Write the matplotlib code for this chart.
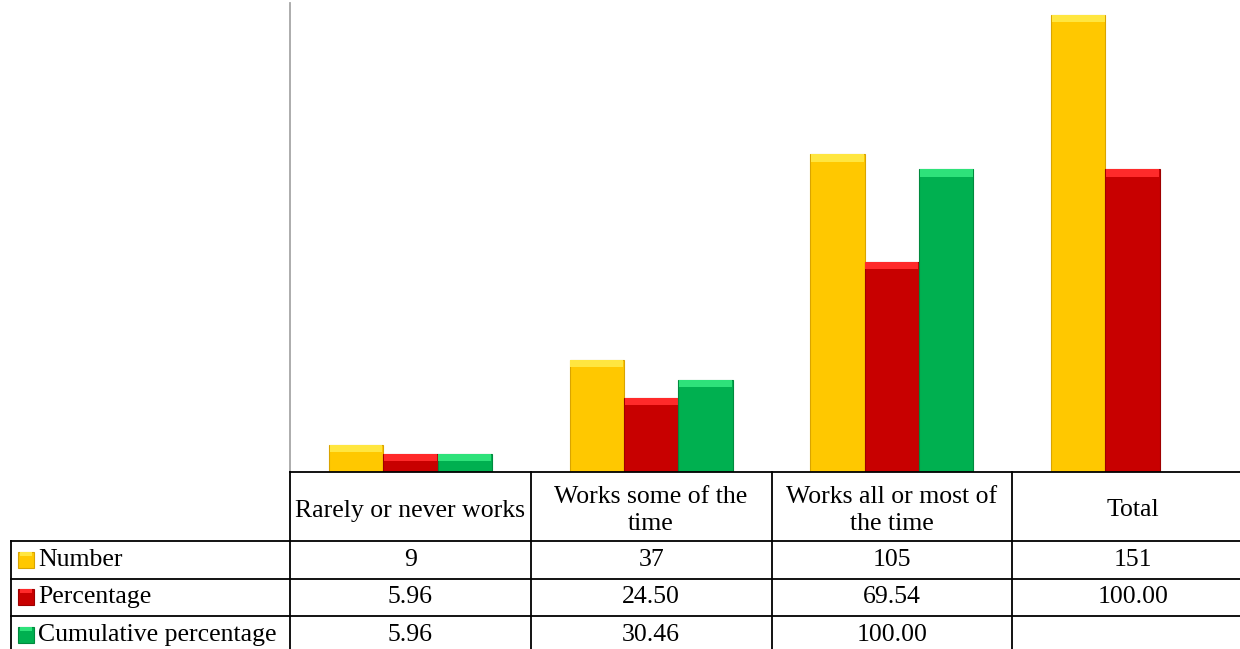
import numpy as np
import matplotlib.pyplot as plt
from matplotlib.patches import Rectangle

categories = ['Rarely or never works', 'Works some of the\ntime',
              'Works all or most of\nthe time', 'Total']
series_names = ['Number', 'Percentage', 'Cumulative percentage']
number = [9, 37, 105, 151]
percentage = [5.96, 24.50, 69.54, 100.00]
cumulative = [5.96, 30.46, 100.00, None]

number_lbl = ['9', '37', '105', '151']
percentage_lbl = ['5.96', '24.50', '69.54', '100.00']
cumulative_lbl = ['5.96', '30.46', '100.00', '']

colors = ['#FFC800', '#C80000', '#00B050']
tops = ['#FFE640', '#FF2A2A', '#2EE27A']
edges = ['#D9A400', '#9E0000', '#008A3E']

plt.rcParams['font.family'] = ['Liberation Serif', 'DejaVu Serif']

W, H = 1240, 649
fig = plt.figure(figsize=(W / 100, H / 100), dpi=100)

# layout in pixels
x0, col_w = 290, 240.75
base_y, top_y = 472, 3
x1 = x0 + col_w * len(categories)
ymax = 155

ax = fig.add_axes([x0 / W, (H - base_y) / H, (x1 - x0) / W, (base_y - top_y) / H])
ax.set_xlim(-0.5, len(categories) - 0.5)
ax.set_ylim(0, ymax)
for s in ['top', 'right', 'bottom']:
    ax.spines[s].set_visible(False)
ax.spines['left'].set_color('#A6A6A6')
ax.spines['left'].set_linewidth(1.3)
ax.set_xticks([])
ax.set_yticks([])

bw = 0.226
band = 2.4
x = np.arange(len(categories))
for k, vals in enumerate([number, percentage, cumulative]):
    for i, v in enumerate(vals):
        if v is None:
            continue
        xc = x[i] + (k - 1) * bw
        ax.bar(xc, v, width=bw, color=colors[k], edgecolor=edges[k], linewidth=0.8)
        h = min(band, v * 0.5)
        ax.bar(xc, h, width=bw * 0.97, bottom=v - h, color=tops[k], linewidth=0)

# data table drawn on an overlay in pixel coordinates
tb = fig.add_axes([0, 0, 1, 1], zorder=3)
tb.patch.set_alpha(0)
tb.set_xlim(0, W)
tb.set_ylim(H, 0)
tb.axis('off')

lw = 1.3
row_top = 541
row_h = 37.5
left = 11
tb.plot([x0, x1], [base_y, base_y], color='black', lw=lw)
for r in range(3):
    y = row_top + r * row_h
    tb.plot([left, x1], [y, y], color='black', lw=lw)
tb.plot([left, left], [row_top, H], color='black', lw=lw)
for c in range(len(categories) + 1):
    xc = x0 + c * col_w
    tb.plot([xc, xc], [base_y, H], color='black', lw=lw)

fs = 18.5
for c, lab in enumerate(categories):
    tb.text(x0 + (c + 0.5) * col_w, (base_y + row_top) / 2 + 4, lab,
            ha='center', va='center', fontsize=fs, linespacing=1.3)

rows = [number_lbl, percentage_lbl, cumulative_lbl]
for r, labels in enumerate(rows):
    yc = row_top + (r + 0.5) * row_h
    tb.add_patch(Rectangle((18, yc - 8), 16, 16, facecolor=colors[r],
                           edgecolor=edges[r], lw=0.8))
    tb.add_patch(Rectangle((20, yc - 8), 12, 4, facecolor=tops[r], lw=0))
    tb.text(38, yc, series_names[r], ha='left', va='center', fontsize=fs)
    for c, lab in enumerate(labels):
        tb.text(x0 + (c + 0.5) * col_w, yc, lab, ha='center', va='center', fontsize=fs)

fig.savefig('out.png', dpi=100)
